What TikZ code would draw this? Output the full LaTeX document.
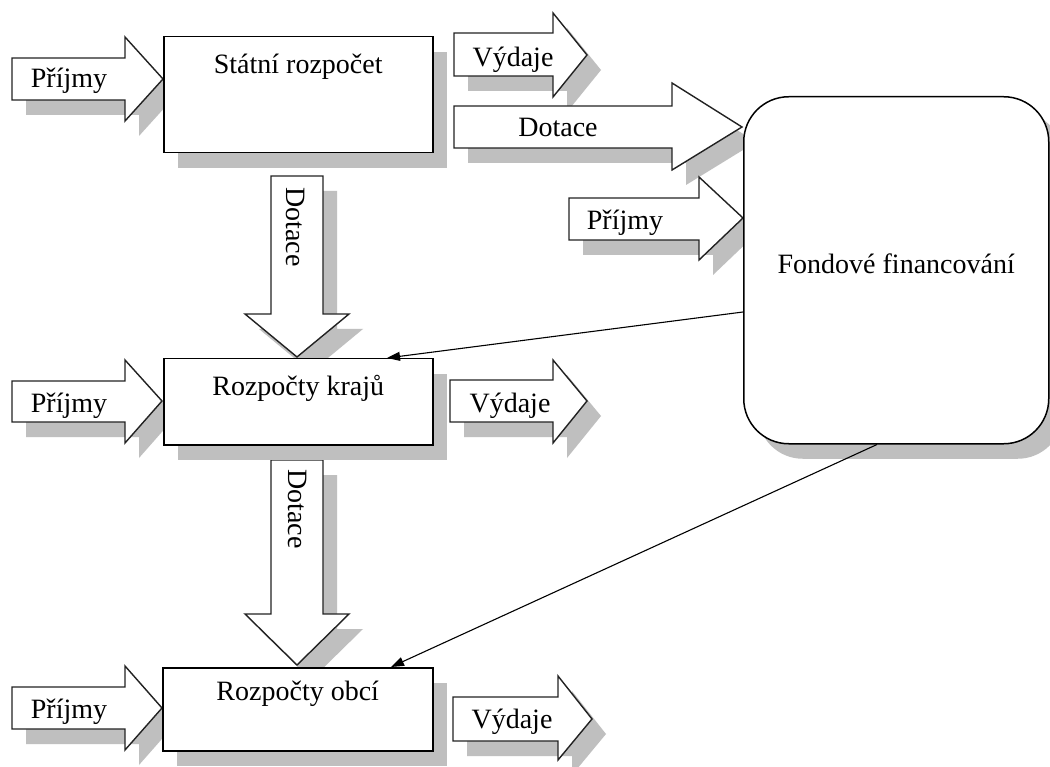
\documentclass[tikz,border=0pt]{standalone}
\usepackage{fontspec}
\setmainfont{Liberation Serif}
\usetikzlibrary{shadows,arrows.meta}
\definecolor{shadowgray}{HTML}{BFBFBF}
\definecolor{edgegray}{HTML}{222222}
\tikzset{
  shade/.style={fill=shadowgray, draw=none, shift={(14,15)}},
  blockarrow/.style={fill=white, draw=edgegray, line width=1.4pt, line join=miter},
  box/.style={draw=black, line width=1.5pt, fill=white, anchor=north west, inner sep=0pt,
    drop shadow={shadow xshift=14pt, shadow yshift=-15pt, fill=shadowgray, opacity=1}},
  lbl/.style={inner sep=0pt, anchor=base, font=\fontsize{28}{34}\selectfont},
  conn/.style={draw=black, line width=1.1pt, -{Triangle[length=13pt,width=9pt]}},
}
\newcommand\pVyA{(454,33) -- (553,33) -- (553,13) -- (587,55) -- (553,97) -- (553,76) -- (454,76) -- cycle}
\newcommand\pDoH{(454,106) -- (672,106) -- (672,83) -- (742,127) -- (672,170) -- (672,148) -- (454,148) -- cycle}
\newcommand\pPrR{(569,198) -- (699,198) -- (699,177) -- (743,218) -- (699,260) -- (699,240) -- (569,240) -- cycle}
\newcommand\pPrA{(12,58) -- (125,58) -- (125,37) -- (163,79) -- (125,121) -- (125,100) -- (12,100) -- cycle}
\newcommand\pPrB{(12,381) -- (125,381) -- (125,360) -- (162,401) -- (125,443) -- (125,422) -- (12,422) -- cycle}
\newcommand\pVyB{(450,380) -- (553,380) -- (553,360) -- (587,401) -- (553,443) -- (553,422) -- (450,422) -- cycle}
\newcommand\pPrC{(12,687) -- (125,687) -- (125,666) -- (162,708) -- (125,750) -- (125,729) -- (12,729) -- cycle}
\newcommand\pVyC{(453,697) -- (558,697) -- (558,676) -- (592,719) -- (558,760) -- (558,741) -- (453,741) -- cycle}
\newcommand\pDoA{(271,176) -- (323,176) -- (323,314) -- (349,314) -- (297,357) -- (245,314) -- (271,314) -- cycle}
\newcommand\pDoB{(271,460) -- (323,460) -- (323,614) -- (349,614) -- (297,665) -- (245,614) -- (271,614) -- cycle}
\begin{document}
\begin{tikzpicture}[x=1pt,y=-1pt]
\useasboundingbox (0,0) rectangle (1050,767);
\fill[white] (0,0) rectangle (1050,767);
% shadows of block arrows
\foreach \p in {\pVyA,\pDoH,\pPrR,\pPrA,\pPrB,\pVyB,\pPrC,\pVyC,\pDoA,\pDoB}{
  \fill[shade] \p;
}
% block arrows
\foreach \p in {\pVyA,\pDoH,\pPrR,\pPrA,\pPrB,\pVyB,\pPrC,\pVyC,\pDoA,\pDoB}{
  \draw[blockarrow] \p;
}
% boxes
\node[box, minimum width=269pt, minimum height=116pt, text height=37pt, text depth=79pt, font=\fontsize{28}{34}\selectfont]
  (stat) at (163,36) {Státní rozpočet};
\node[box, minimum width=269pt, minimum height=86pt, text height=37pt, text depth=49pt, font=\fontsize{28}{34}\selectfont]
  (kraje) at (163,358) {Rozpočty krajů};
\node[box, minimum width=270pt, minimum height=83pt, text height=33pt, text depth=50pt, font=\fontsize{28}{34}\selectfont]
  (obce) at (162,667) {Rozpočty obcí};
\node[box, rounded corners=45pt, minimum width=305pt, minimum height=347pt, text height=177pt, text depth=170pt, font=\fontsize{28}{34}\selectfont]
  (fond) at (743,96) {Fondové financování};
% arrow labels
\node[lbl] (prA) at (69,88) {Příjmy};
\node[lbl] (vyA) at (513,67) {Výdaje};
\node[lbl] (doH) at (558,137) {Dotace};
\node[lbl] (prR) at (625,230) {Příjmy};
\node[lbl] (prB) at (69,412) {Příjmy};
\node[lbl] (vyB) at (510,412) {Výdaje};
\node[lbl] (prC) at (69,718) {Příjmy};
\node[lbl] (vyC) at (512,728) {Výdaje};
\node[inner sep=0pt, rotate=-90, font=\fontsize{28}{34}\selectfont] (doA) at (296,227) {Dotace};
\node[inner sep=0pt, rotate=-90, font=\fontsize{28}{34}\selectfont] (doB) at (298,509) {Dotace};
% connectors
\draw[conn] ([yshift=-216pt]fond.north west) -- ([xshift=224pt]kraje.north west);
\draw[conn] ([xshift=134pt]fond.south west) -- ([xshift=229pt]obce.north west);
\end{tikzpicture}
\end{document}
